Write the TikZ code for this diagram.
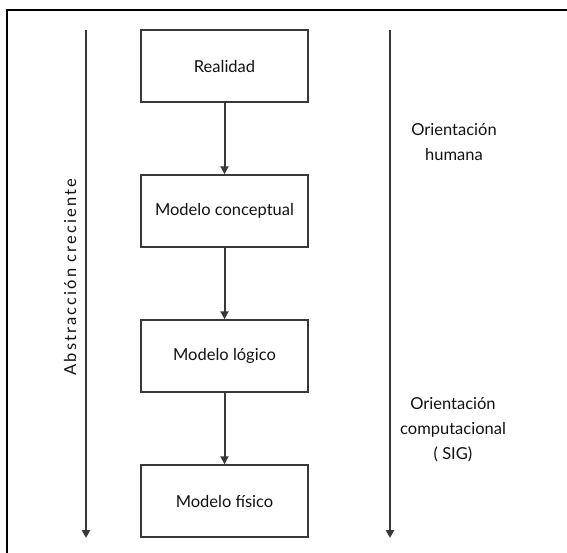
\documentclass[tikz,border=0pt]{standalone}
\usepackage{fontspec}
\setmainfont{Lato}
\usetikzlibrary{arrows.meta}
\definecolor{linegray}{HTML}{383838}
\definecolor{txt}{HTML}{111111}
\tikzset{
  modelbox/.style={draw=linegray, line width=1.5pt, minimum width=167pt, minimum height=72pt, inner sep=0pt, text=txt, font=\fontsize{16.5}{19}\selectfont},
  flow/.style={draw=linegray, line width=2pt, -{Triangle[width=8pt,length=8pt]}},
  side/.style={text=txt, font=\fontsize{16.5}{25}\selectfont, align=center},
}
\begin{document}
\begin{tikzpicture}[x=1pt,y=-1pt]
\useasboundingbox (0,0) rectangle (567,552);
\draw[line width=1.5pt, draw=black] (7,10) rectangle (575,560);
\node[modelbox] (r) at (224.5,66) {Realidad};
\node[modelbox] (c) at (224.5,211) {Modelo conceptual};
\node[modelbox] (l) at (224.5,356) {Modelo lógico};
\node[modelbox] (f) at (224.5,501) {Modelo físico};
\draw[flow] (r) -- (c);
\draw[flow] (c) -- (l);
\draw[flow] (l) -- (f);
\coordinate (lt) at (86,30);
\coordinate (lb) at (86,538);
\coordinate (rt) at (390,30);
\coordinate (rb) at (390,538);
\draw[flow] (lt) -- (lb);
\draw[flow] (rt) -- (rb);
\node[side, rotate=90] (abs) at (70,277) {\addfontfeature{LetterSpace=13}Abstracción creciente};
\node[side] (oh) at (454,142) {Orientación\\humana};
\node[side] (oc) at (453,430) {Orientación\\computacional\\( SIG)};
\end{tikzpicture}
\end{document}
